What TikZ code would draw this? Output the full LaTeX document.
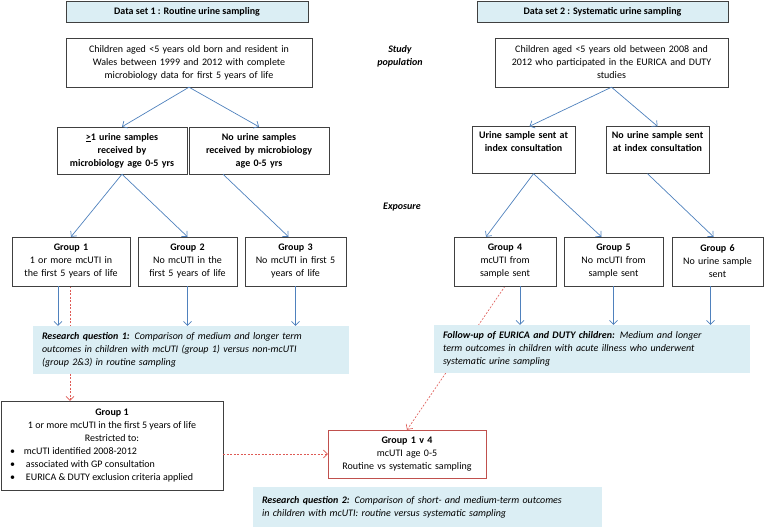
\documentclass[tikz,border=0pt]{standalone}
\usepackage{fontspec}
\setmainfont{Carlito}
\usepackage{tikz}
\usetikzlibrary{arrows.meta, positioning, calc, backgrounds}
\definecolor{boxfill}{RGB}{219,238,244}
\definecolor{arrowblue}{RGB}{79,129,189}
\definecolor{dashred}{RGB}{222,90,85}
\definecolor{framered}{RGB}{192,80,77}
\definecolor{framegray}{RGB}{64,64,64}

\begin{document}
\begin{tikzpicture}[x=1pt, y=-1pt, font=\fontsize{10}{13}\selectfont,
    box/.style={draw=framegray, align=center, inner xsep=3pt, inner ysep=2pt, minimum height=49pt},
    boldbox/.style={box, font=\fontsize{10}{13}\selectfont\bfseries, minimum height=47pt},
    hdr/.style={draw=framegray, fill=boxfill, font=\fontsize{10}{13}\selectfont\bfseries, minimum height=21pt, inner sep=0pt},
    note/.style={fill=boxfill, align=left, inner xsep=9pt, inner ysep=2pt, minimum height=48pt, font=\fontsize{10}{13}\selectfont\itshape},
    lbl/.style={align=center, font=\fontsize{10}{13}\selectfont\bfseries\itshape},
    arr/.style={draw=arrowblue, line width=0.7pt, -{Straight Barb[length=4pt,width=8pt]}},
    redarr/.style={draw=dashred, line width=0.6pt, dash pattern=on 2pt off 1.5pt, -{Straight Barb[length=4pt,width=8pt]}}]
    \useasboundingbox (0,0) rectangle (767,528);

    \node[hdr, minimum width=242pt] (ds1) at (187,11.5) {Data set 1 : Routine urine sampling};
    \node[hdr, minimum width=251pt] (ds2) at (602.5,11.5) {Data set 2 : Systematic urine sampling};
    \node[lbl] (studypop) at (400,56) {Study\\population};
    \node[lbl] (exposure) at (402,207) {Exposure};

    \node[box, text width=240pt] (pop1) at (189,62.5) {Children aged <5 years old born and resident in\\Wales between  1999 and 2012 with complete\\microbiology data for first 5 years of life};
    \node[box, text width=227pt] (pop2) at (611.5,62.5) {Children aged <5 years old between  2008 and\\2012 who participated in the EURICA and DUTY\\studies};

    \node[boldbox, text width=124pt] (anysample) at (122,150.5) {\underline{>}1 urine samples\\received by\\microbiology  age 0-5 yrs};
    \node[boldbox, text width=134pt] (nosample) at (259,150.5) {No urine samples\\received by microbiology\\age 0-5 yrs};
    \node[boldbox, text width=97pt] (sent) at (523.5,150) {Urine sample sent at\\index consultation\\\strut};
    \node[boldbox, text width=97pt] (notsent) at (657.5,150) {No urine sample sent\\at index consultation\\\strut};

    \node[box, text width=112pt] (g1) at (71,261.5) {\textbf{Group 1}\\1 or more mcUTI  in\\the first 5 years of life};
    \node[box, text width=93pt] (g2) at (187.5,261.5) {\textbf{Group 2}\\No mcUTI in the\\first 5 years of life};
    \node[box, text width=95pt] (g3) at (295.5,261.5) {\textbf{Group 3}\\No mcUTI in first 5\\years of life};
    \node[box, text width=96pt] (g4) at (505,261.5) {\textbf{Group 4}\\mcUTI from\\sample sent};
    \node[box, text width=93pt] (g5) at (613.5,261.5) {\textbf{Group 5}\\No mcUTI from\\sample sent};
    \node[box, text width=85pt] (g6) at (717.5,261.5) {\textbf{Group 6}\\No urine sample\\sent};

    \node[note, text width=298pt] (rq1) at (191,350) {\textbf{Research  question 1:} Comparison of medium  and longer term\\outcomes in children with mcUTI (group 1) versus non-mcUTI\\(group 2\&3) in routine sampling};
    \node[note, text width=298pt] (followup) at (592,349) {\textbf{Follow-up of EURICA  and DUTY  children:} Medium and longer\\term  outcomes in children with acute illness who underwent\\systematic urine sampling};

    \node[box, minimum height=89pt] (g1restr) at (112,445.5) {\begin{minipage}{216pt}\centering
        \textbf{Group 1}\\1 or more mcUTI  in the first 5 years of life\\Restricted to:\par\raggedright
        \hspace*{6pt}\textbullet\hspace{9pt}mcUTI  identified 2008-2012\\
        \hspace*{6pt}\textbullet\hspace{11pt}associated with GP consultation\\
        \hspace*{6pt}\textbullet\hspace{11pt}EURICA \& DUTY  exclusion criteria applied\end{minipage}};
    \node[box, draw=framered, text width=152pt, minimum height=48pt] (g1v4) at (407,454) {\textbf{Group 1 v 4}\\mcUTI  age 0-5\\Routine vs systematic sampling};
    \node[note, text width=331pt, minimum height=40pt] (rq2) at (427.5,507) {\textbf{Research  question 2:} Comparison of short- and medium-term  outcomes\\in children with mcUTI:  routine versus systematic  sampling};

    \draw[arr] (pop1.south) -- (anysample.north);
    \draw[arr] (pop1.south) -- (nosample.north);
    \draw[arr] (pop2.south) -- ([xshift=6pt]sent.north);
    \draw[arr] (pop2.south) -- (notsent.north);
    \draw[arr] (anysample.south) -- (g1.north);
    \draw[arr] (anysample.south) -- (g2.north);
    \draw[arr] ([xshift=-36pt]nosample.south) -- ([xshift=-7pt]g3.north);
    \draw[arr] ([xshift=10pt]sent.south) -- ([xshift=-19pt]g4.north);
    \draw[arr] ([xshift=10pt]sent.south) -- ([xshift=-12pt]g5.north);
    \draw[arr] ([xshift=-10pt]notsent.south) -- ([xshift=-4pt]g6.north);
    \draw[arr] ([xshift=-13pt]g1.south) -- ([xshift=-13pt]g1.south |- rq1.north);
    \draw[arr] (g2.south) -- (g2.south |- rq1.north);
    \draw[arr] (g3.south) -- (g3.south |- rq1.north);
    \draw[arr] ([xshift=15pt]g4.south) -- ([xshift=15pt]g4.south |- followup.north);
    \draw[arr] (g5.south) -- (g5.south |- followup.north);
    \draw[arr] ([xshift=-7pt]g6.south) -- ([xshift=-7pt]g6.south |- followup.north);

    \begin{scope}[on background layer]
        \draw[redarr] ([xshift=-1pt]g1.south) -- ([xshift=-1pt]g1.south |- g1restr.north);
        \draw[redarr] (g4.south) -- (g1v4.north);
    \end{scope}
    \draw[redarr] (g1restr.east |- g1v4.west) -- (g1v4.west);
\end{tikzpicture}
\end{document}
